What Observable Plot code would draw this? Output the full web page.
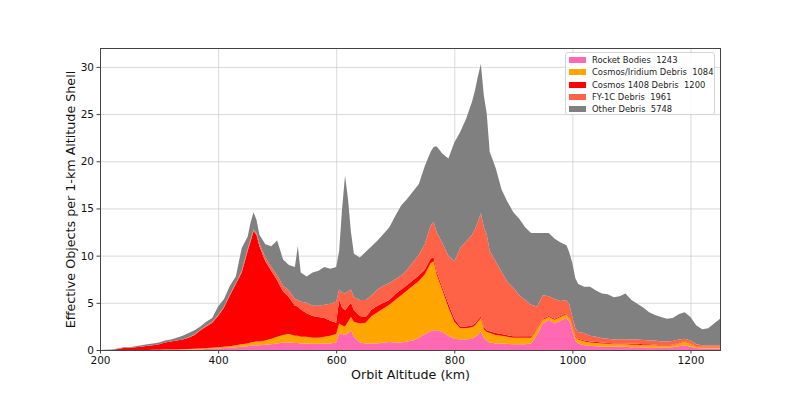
<!DOCTYPE html>
<html>
<head>
<meta charset="utf-8">
<script src="https://cdn.jsdelivr.net/npm/d3@7"></script>
<script src="https://cdn.jsdelivr.net/npm/@observablehq/plot@0.6"></script>
<style>
  html, body { margin: 0; padding: 0; background: #fff; }
  #wrap { position: relative; width: 800px; height: 400px; font-family: "DejaVu Sans", sans-serif; }
  #legend { position: absolute; left: 565px; top: 52px; width: 150px; height: 63px;
            border: 1px solid #d4d4d4; border-radius: 3px; background: rgba(255,255,255,0.85); box-sizing: border-box; }
  .row { position: absolute; left: 0; height: 12px; width: 100%; }
  .sw { position: absolute; left: 3px; top: 3px; width: 17px; height: 6px; }
  .lb { position: absolute; left: 26px; top: 0; font-size: 8.4px; line-height: 12px; white-space: pre; color: #222; }
</style>
</head>
<body>
<div id="wrap"><div id="legend"></div></div>
<script>
const altitudes = [
  200,210,220,230,240,250,260,270,280,290,
  300,310,320,330,340,350,360,370,380,390,
  400,410,420,430,440,450,455,460,465,470,
  480,490,500,510,520,530,535,540,550,560,
  570,580,590,600,605,610,615,620,625,630,
  640,650,660,670,680,690,700,710,720,730,
  740,750,760,765,770,780,790,800,810,820,
  830,835,840,845,850,855,860,870,880,890,
  900,910,920,930,940,950,960,970,980,990,
  995,1000,1005,1010,1020,1030,1040,1050,1060,1070,
  1080,1090,1100,1110,1120,1130,1140,1150,1160,1170,
  1180,1190,1200,1210,1220,1230,1240,1250
];
const rocketBodies = [
  0,0,0,0,0,0,0,0,0,0.02,
  0.02,0.03,0.03,0.04,0.05,0.05,0.06,0.08,0.1,0.12,
  0.15,0.2,0.25,0.3,0.35,0.4,0.45,0.5,0.5,0.5,
  0.55,0.6,0.7,0.8,0.8,0.75,0.75,0.7,0.7,0.65,
  0.65,0.7,0.7,0.8,1.8,1.7,1.6,1.8,2.1,1.4,
  0.8,0.7,0.7,0.7,0.8,0.85,0.8,0.8,0.9,1.0,
  1.3,1.7,2.0,2.1,2.1,1.9,1.5,1.2,1.1,1.1,
  1.2,1.4,1.6,2.0,1.3,1.0,0.8,0.7,0.7,0.65,
  0.6,0.6,0.6,0.7,1.6,2.8,3.2,2.8,3.1,3.4,
  3.0,2.0,1.0,0.7,0.5,0.45,0.4,0.35,0.35,0.35,
  0.35,0.35,0.3,0.3,0.3,0.25,0.25,0.25,0.25,0.3,
  0.4,0.5,0.35,0.2,0.15,0.15,0.15,0.15
];
const cosmosIridium = [
  0,0,0,0,0,0,0,0,0,0,
  0.01,0.02,0.02,0.02,0.03,0.05,0.06,0.07,0.1,0.13,
  0.15,0.15,0.15,0.2,0.25,0.3,0.35,0.35,0.4,0.4,
  0.45,0.6,0.7,0.8,0.9,0.75,0.75,0.7,0.7,0.65,
  0.65,0.7,0.8,0.9,1.0,0.9,0.9,1.2,1.4,1.6,
  2.0,2.2,2.9,3.3,3.6,3.95,4.5,5.0,5.4,5.8,
  6.0,6.3,7.2,7.3,5.9,4.4,3.0,1.8,1.2,1.2,
  1.2,1.2,1.4,1.4,0.9,0.9,1.0,0.9,0.8,0.75,
  0.7,0.7,0.7,0.6,0.6,0.4,0.3,0.4,0.4,0.4,
  0.4,0.4,0.4,0.4,0.4,0.35,0.35,0.35,0.3,0.25,
  0.25,0.25,0.25,0.25,0.2,0.25,0.25,0.2,0.2,0.2,
  0.3,0.4,0.35,0.15,0.15,0.15,0.15,0.15
];
const cosmos1408 = [
  0,0,0,0.1,0.2,0.25,0.3,0.35,0.45,0.48,
  0.57,0.75,0.85,0.94,1.02,1.2,1.48,1.95,2.3,2.65,
  3.3,4.15,5.4,6.5,7.6,9.8,10.7,11.75,11.3,10.1,
  8.4,7.2,6.0,4.6,3.9,3.2,3.1,2.9,2.5,2.3,
  2.2,2.0,1.6,1.2,2.5,1.9,1.7,1.6,1.5,1.2,
  0.8,0.6,0.7,0.7,0.6,0.5,0.6,0.6,0.6,0.6,
  0.6,0.5,0.5,0.4,0.3,0.3,0.4,0.3,0.2,0.2,
  0.2,0.2,0.2,0.2,0.2,0.2,0.2,0.2,0.2,0.15,
  0.15,0.15,0.15,0.15,0.1,0.1,0.1,0.1,0.1,0.1,
  0.1,0.1,0.1,0.1,0.1,0.1,0.1,0.1,0.1,0.1,
  0.1,0.1,0.1,0.1,0.1,0.1,0.05,0.05,0.05,0.05,
  0.05,0.05,0.05,0.05,0.05,0.05,0.05,0.05
];
const fy1c = [
  0,0,0,0,0,0,0,0,0,0,
  0,0,0,0,0,0.05,0.05,0.05,0.1,0.1,
  0.1,0.1,0.1,0.1,0.2,0.2,0.2,0.2,0.2,0.3,
  0.4,0.4,0.5,0.6,0.7,0.7,0.7,0.8,1.1,1.1,
  1.2,1.4,1.8,2.2,1.1,1.6,1.8,1.6,1.4,1.4,
  1.7,1.8,1.5,1.7,1.8,1.8,1.6,1.5,1.6,1.9,
  2.2,2.7,3.5,3.8,4.2,4.7,5.1,6.1,8.3,9.0,
  9.6,10.0,10.4,10.9,10.6,10.1,8.5,7.6,6.6,5.65,
  5.15,4.35,3.85,3.35,2.3,2.5,2.1,2.1,1.6,1.4,
  1.3,1.0,0.8,0.7,0.8,0.6,0.55,0.45,0.45,0.4,
  0.45,0.45,0.45,0.45,0.45,0.4,0.45,0.4,0.4,0.4,
  0.35,0.25,0.25,0.2,0.15,0.15,0.15,0.15
];
const otherDebris = [
  0,0.02,0.05,0.05,0.1,0.05,0.1,0.15,0.15,0.2,
  0.2,0.2,0.2,0.3,0.4,0.45,0.45,0.35,0.4,0.4,
  0.9,0.8,0.9,0.7,2.4,1.3,1.8,1.8,1.4,0.9,
  1.4,2.2,3.7,2.8,2.7,3.4,5.7,3.1,2.8,3.5,
  3.7,4.0,3.7,3.7,4.1,8.9,12.5,9.8,6.1,4.6,
  4.5,5.1,5.2,5.2,5.5,5.9,6.7,7.4,7.5,7.5,
  7.5,8.3,7.8,7.9,9.1,9.5,10.3,12.6,12.3,13.0,
  14.1,14.7,15.4,15.8,14.0,12.8,10.5,9.9,8.7,8.5,
  8.0,8.1,7.7,7.6,7.8,6.6,6.7,6.4,6.2,5.8,
  5.5,5.7,5.3,5.1,4.9,5.2,4.9,4.75,4.7,4.5,
  4.55,4.85,4.2,3.8,3.45,3.0,2.7,2.6,2.4,2.45,
  2.7,2.8,2.5,2.0,1.7,1.8,2.3,2.8
];
const seriesNames = ["Rocket Bodies", "Cosmos/Iridium Debris", "Cosmos 1408 Debris", "FY-1C Debris", "Other Debris"];
const seriesCounts = [1243, 1084, 1200, 1961, 5748];
const seriesColors = ["#ff69b4", "#ffa500", "#ff0000", "#ff6347", "#808080"];
const xTicks = [200, 400, 600, 800, 1000, 1200];
const yTicks = [0, 5, 10, 15, 20, 25, 30];
const xLabel = "Orbit Altitude (km)";
const yLabel = "Effective Objects per 1-km Altitude Shell";

const seriesValues = [rocketBodies, cosmosIridium, cosmos1408, fy1c, otherDebris];
const data = altitudes.flatMap((a, i) =>
  seriesNames.map((name, k) => ({altitude: a, series: name, value: seriesValues[k][i]})));

const chart = Plot.plot({
  width: 800, height: 400,
  marginLeft: 100, marginRight: 80, marginTop: 48, marginBottom: 50,
  style: {fontFamily: "DejaVu Sans, sans-serif", fontSize: "10.5px", background: "white", color: "#111"},
  x: {domain: [200, 1250]},
  y: {domain: [0, 32]},
  color: {domain: seriesNames, range: seriesColors},
  marks: [
    Plot.gridX(xTicks, {stroke: "#cfcfcf", strokeOpacity: 1, strokeWidth: 0.8}),
    Plot.gridY(yTicks, {stroke: "#cfcfcf", strokeOpacity: 1, strokeWidth: 0.8}),
    Plot.areaY(data, {x: "altitude", y: "value", fill: "series", order: seriesNames, curve: "linear"}),
    Plot.frame({stroke: "#444", strokeWidth: 1}),
    Plot.axisX({ticks: xTicks, tickFormat: d => String(d), tickSize: 3.5, tickPadding: 2.5, label: null, fontSize: 10.5, stroke: "#444"}),
    Plot.axisY({ticks: yTicks, tickFormat: d => String(d), tickSize: 3.5, tickPadding: 3, label: null, fontSize: 10.5, stroke: "#444"}),
    Plot.text([xLabel], {frameAnchor: "bottom", textAnchor: "middle", dy: 28, fontSize: 12.7, fill: "#111"}),
    Plot.text([yLabel], {frameAnchor: "left", textAnchor: "middle", rotate: -90, dx: -30, fontSize: 12.7, fill: "#111"})
  ]
});
const wrap = document.getElementById("wrap");
wrap.insertBefore(chart, wrap.firstChild);

const legend = document.getElementById("legend");
seriesNames.forEach((name, k) => {
  const row = document.createElement("div");
  row.className = "row";
  row.style.top = (1 + k * 12.3) + "px";
  const sw = document.createElement("div");
  sw.className = "sw";
  sw.style.background = seriesColors[k];
  const lb = document.createElement("div");
  lb.className = "lb";
  lb.textContent = name + "  " + seriesCounts[k];
  row.appendChild(sw); row.appendChild(lb);
  legend.appendChild(row);
});
</script>
</body>
</html>
